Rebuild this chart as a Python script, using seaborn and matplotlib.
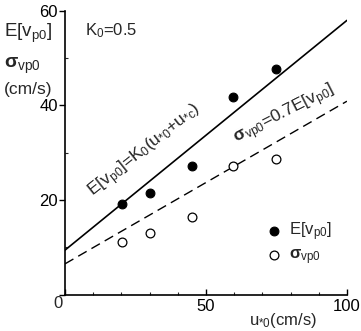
import matplotlib
matplotlib.use("Agg")
import matplotlib.pyplot as plt
import seaborn as sns
import pandas as pd
from matplotlib.ticker import MultipleLocator

# ---- data ----
u0 = [20.2, 30.2, 45.2, 59.6, 74.7]
E_vp0 = [19.2, 21.4, 27.2, 41.7, 47.8]
sigma_vp0 = [11.1, 13.0, 16.5, 27.1, 28.7]
line_x = [0, 100]
line_E = [9.4, 58.0]
line_sigma = [6.5, 40.9]
xticks = [0, 50, 100]
xticklabels = ["", "50", "100"]
yticks = [0, 20, 40, 60]
yticklabels = ["", "20", "40", "60"]

sns.set_theme(style="ticks")
plt.rcParams['font.family'] = ['Liberation Sans', 'DejaVu Sans']
plt.rcParams['mathtext.fontset'] = 'custom'
plt.rcParams['mathtext.rm'] = 'Liberation Sans'
plt.rcParams['mathtext.it'] = 'Liberation Sans'
plt.rcParams['mathtext.bf'] = 'Liberation Sans:bold'

fig = plt.figure(figsize=(3.61, 3.31), dpi=100)
ax = fig.add_axes([0.180, 0.110, 0.781, 0.857])

df_pts = pd.DataFrame({"u0": u0, "E": E_vp0, "s": sigma_vp0})
df_line = pd.DataFrame({"x": line_x, "E": line_E, "s": line_sigma})

sns.lineplot(data=df_line, x="x", y="E", ax=ax, color="black", lw=1.2)
sns.lineplot(data=df_line, x="x", y="s", ax=ax, color="black", lw=1.0,
             linestyle=(0, (7, 4)))
sns.scatterplot(data=df_pts, x="u0", y="E", ax=ax, color="black", s=40,
                edgecolor="black", linewidth=0.8, label=r"E[v$_{\mathrm{p0}}$]", zorder=5)
sns.scatterplot(data=df_pts, x="u0", y="s", ax=ax, facecolor="white", s=40,
                edgecolor="black", linewidth=0.9,
                label=r"$\mathbf{\sigma}_{\mathrm{vp0}}$", zorder=5)

ax.set_xlim(0, 100)
ax.set_ylim(0, 60)
ax.set_xticks(xticks)
ax.set_xticklabels(xticklabels)
ax.set_yticks(yticks)
ax.set_yticklabels(yticklabels)
ax.xaxis.set_minor_locator(MultipleLocator(10))
ax.yaxis.set_minor_locator(MultipleLocator(10))
ax.tick_params(axis='both', which='major', labelsize=12, length=4, width=1, color='black', labelcolor='black')
ax.tick_params(axis='x', which='major', direction='in', pad=3)
ax.tick_params(axis='y', which='major', direction='out', pad=1)
ax.tick_params(axis='both', which='minor', direction='in', length=2, width=0.8)
for sp in ["top", "right"]:
    ax.spines[sp].set_visible(False)
for sp in ["left", "bottom"]:
    ax.spines[sp].set_color("black")
    ax.spines[sp].set_linewidth(1.2)

ax.set_xlabel("")
ax.set_ylabel("")
fig.text(58 / 361, 1 - 304 / 331, "0", fontsize=12, ha="center", va="center")
fig.text(283 / 361, 1 - 320 / 331, r"u$_{*0}$(cm/s)", fontsize=12, ha="center", va="center")

fig.text(0.012, 0.900, r"E[v$_{\mathrm{p0}}$]", fontsize=13.5, ha="left", va="center")
fig.text(0.012, 0.800, r"$\mathbf{\sigma}_{\mathrm{vp0}}$", fontsize=14, ha="left", va="center")
fig.text(0.012, 0.730, "(cm/s)", fontsize=12.5, ha="left", va="center")

ax.text(0.07, 0.93, r"K$_{\mathrm{0}}$=0.5", transform=ax.transAxes, fontsize=12, ha="left", va="center")

ax.text(28.6, 30.4, r"E[v$_{\mathrm{p0}}$]=K$_{\mathrm{0}}$(u$_{*0}$+u$_{*c}$)",
        fontsize=12.5, rotation=38.5, ha="center", va="center", rotation_mode="anchor")
ax.text(77.8, 38.0, r"$\mathbf{\sigma}_{\mathrm{vp0}}$=0.7E[v$_{\mathrm{p0}}$]",
        fontsize=12.5, rotation=27, ha="center", va="center", rotation_mode="anchor")

leg = ax.legend(loc="lower left", bbox_to_anchor=(0.70, 0.075), frameon=False,
                fontsize=12, handlelength=0.6, handletextpad=0.6, labelspacing=0.25,
                borderaxespad=0)

fig.savefig("out.png", dpi=100)
